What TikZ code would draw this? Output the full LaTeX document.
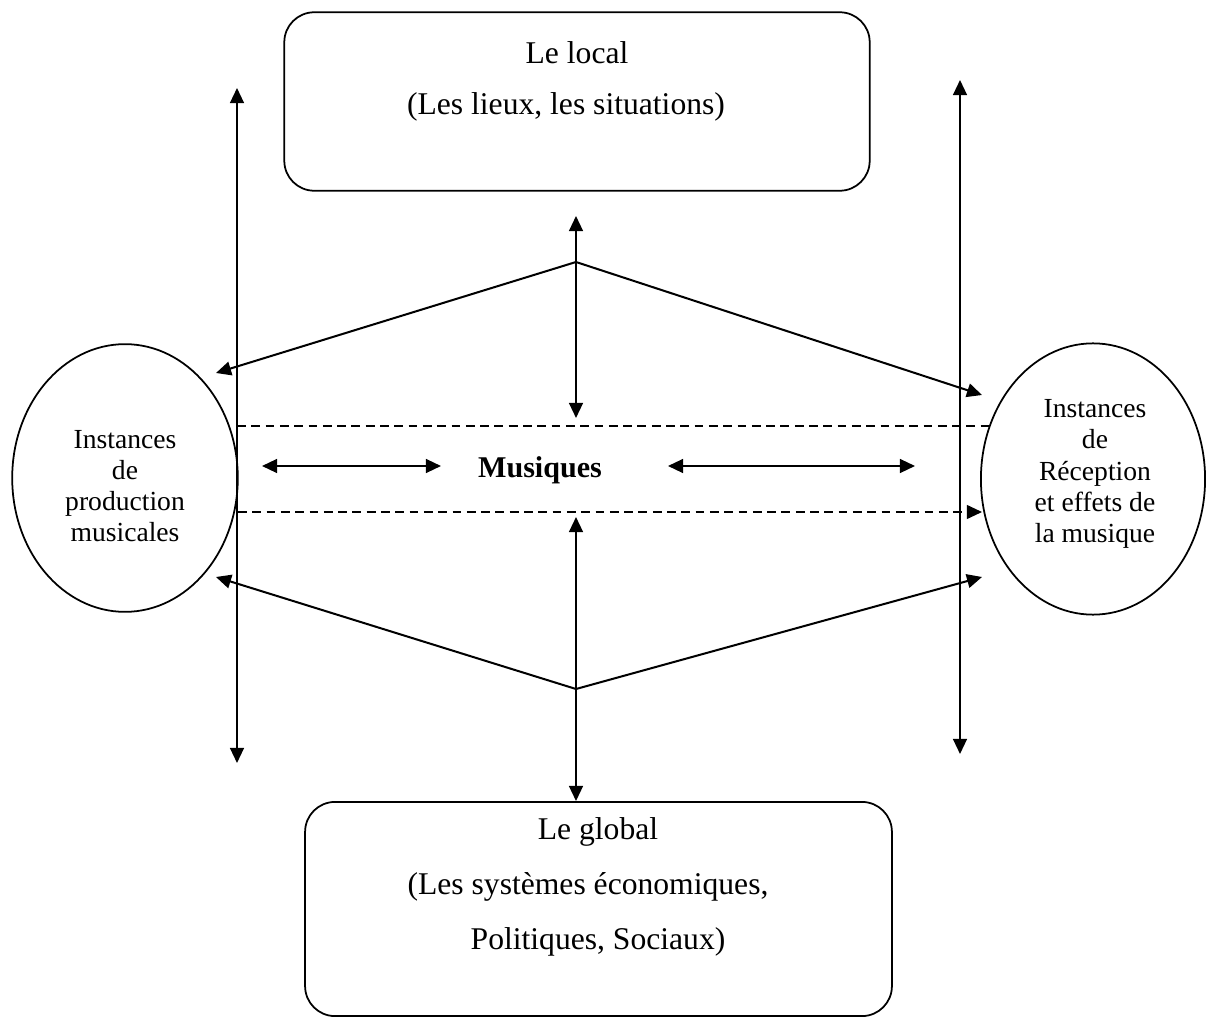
\documentclass[tikz,border=0pt]{standalone}
\usepackage{fontspec}
\setmainfont{Liberation Serif}
\usepackage{tikz}
\usetikzlibrary{arrows.meta}
\usetikzlibrary{shapes.geometric}

\tikzset{
  box/.style={draw, rounded corners=0.42cm, line width=0.7pt, inner sep=0pt},
  instance/.style={draw, ellipse, line width=0.7pt, inner sep=0pt},
  boxtext/.style={font=\fontsize{12.6}{15}\selectfont},
  insttext/.style={align=center, font=\fontsize{11}{12.4}\selectfont},
}

\begin{document}
\begin{tikzpicture}[x=0.014cm, y=-0.014cm, line width=0.8pt, >={Triangle[length=6pt,width=5.5pt]}]
\useasboundingbox (0,0) rectangle (1209,1018);
\coordinate (lt) at (237,88);
\coordinate (lb) at (237,763);
\coordinate (rt) at (960,80);
\coordinate (rb) at (960,754);
\coordinate (ta) at (576,262);
\coordinate (ba) at (576,689);
\coordinate (tl) at (216,373);
\coordinate (tr) at (982,395);
\coordinate (bl) at (216,577);
\coordinate (br) at (982,577);
\coordinate (ct) at (576,216);
\coordinate (cm) at (576,418);
\coordinate (cb) at (576,517);
% draws boxes
\node[box, minimum width=8.2cm, minimum height=2.5cm] (local) at (577,101.5) {};
\node[box, minimum width=8.22cm, minimum height=3.0cm] (global) at (598.5,909) {};
% draws ellipses
\node[instance, minimum width=3.16cm, minimum height=3.75cm] (prod) at (125,478) {};
\node[instance, minimum width=3.14cm, minimum height=3.8cm] (recep) at (1093,479) {};
% labels
\node[boxtext] (locala) at (577,53) {Le local};
\node[boxtext] (localb) at (566,107) {(Les lieux, les situations)};
\node[boxtext] (globala) at (598,832) {Le global};
\node[boxtext] (globalb) at (588,887) {(Les systèmes économiques,};
\node[boxtext] (globalc) at (598,942) {Politiques, Sociaux)};
\node[insttext] (prodtext) at (125,486) {Instances\\de\\production\\musicales};
\node[insttext] (receptext) at (1095,474) {Instances\\de\\Réception\\et effets de\\la musique};
\node[boxtext, font=\fontsize{12}{14.4}\selectfont\bfseries] (mus) at (540,470) {Musiques};
% draws arrows
\draw[<->] (lt) to (lb);
\draw[<->] (rt) to (rb);
\draw[<->] (ct) to (cm);
\draw[<->] (cb) to (cb |- global.north);
\draw[->] (ta) to (tl);
\draw[->] (ta) to (tr);
\draw[->] (ba) to (bl);
\draw[->] (ba) to (br);
\draw[<->] (262,466) coordinate (ha) to (441,466) coordinate (hb);
\draw[<->] (668,466) coordinate (hc) to (915,466) coordinate (hd);
% draws dashed lines
\begin{scope}[line width=0.6pt, dash pattern=on 3.5pt off 2.2pt]
\draw (237,426) coordinate (da) to (993,426) coordinate (db);
\draw[->] (238,512) coordinate (dc) to (982,512) coordinate (dd);
\end{scope}
\end{tikzpicture}
\end{document}
